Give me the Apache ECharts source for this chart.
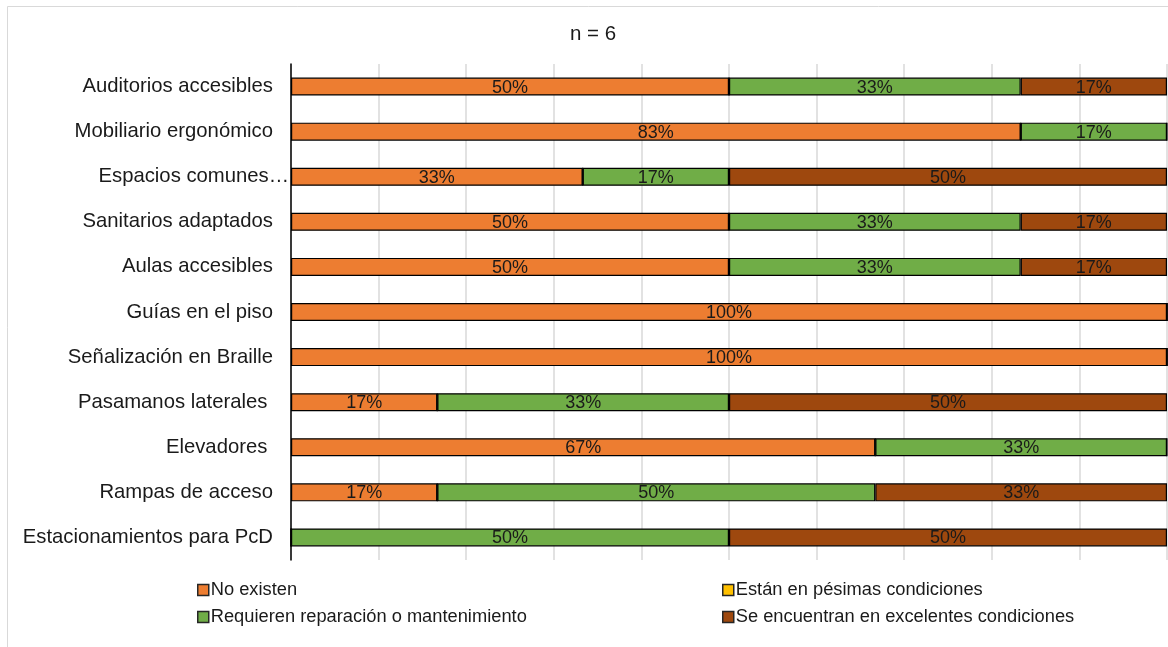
<!DOCTYPE html>
<html>
<head>
<meta charset="utf-8">
<script src="https://cdn.jsdelivr.net/npm/echarts@6/dist/echarts.min.js"></script>
<style>
  html, body { margin: 0; padding: 0; background: #fff; }
  #chart { width: 1168px; height: 647px; }
</style>
</head>
<body>
<div id="chart"></div>
<script>
// Infrastructure items, listed top to bottom
const categories = [
  'Auditorios accesibles',
  'Mobiliario ergonómico',
  'Espacios comunes…',
  'Sanitarios adaptados',
  'Aulas accesibles',
  'Guías en el piso',
  'Señalización en Braille',
  'Pasamanos laterales ',
  'Elevadores ',
  'Rampas de acceso',
  'Estacionamientos para PcD'
];

// Share of respondents (%) per condition, n = 6
const noExisten      = [50, 83.3, 33.3, 50, 50, 100, 100, 16.7, 66.7, 16.7, 0];
const pesimas        = [0, 0, 0, 0, 0, 0, 0, 0, 0, 0, 0];
const requieren      = [33.3, 16.7, 16.7, 33.3, 33.3, 0, 0, 33.3, 33.3, 50, 50];
const excelentes     = [16.7, 0, 50, 16.7, 16.7, 0, 0, 50, 0, 33.3, 50];

const seriesNames = [
  'No existen',
  'Están en pésimas condiciones',
  'Requieren reparación o mantenimiento',
  'Se encuentran en excelentes condiciones'
];
const seriesColors = ['#ED7D31', '#FFC000', '#70AD47', '#9E480E'];
const seriesValues = [noExisten, pesimas, requieren, excelentes];

const FONT = '"Liberation Sans", Arial, sans-serif';

const chart = echarts.init(document.getElementById('chart'), null, { renderer: 'canvas' });

const series = seriesNames.map((name, i) => ({
  name: name,
  type: 'bar',
  stack: 'total',
  barWidth: 18,
  data: seriesValues[i],
  itemStyle: { color: seriesColors[i], borderColor: '#000', borderWidth: 1.2 },
  label: {
    show: true,
    position: 'inside',
    color: '#1a1a1a',
    fontFamily: FONT,
    fontSize: 18,
    offset: [0, 1],
    formatter: p => (p.value > 0 ? Math.round(p.value) + '%' : '')
  },
  emphasis: { disabled: true }
}));

const legendCommon = {
  orient: 'vertical',
  padding: 0,
  itemWidth: 11,
  itemHeight: 11,
  itemGap: 9,
  icon: 'rect',
  textStyle: { fontFamily: FONT, fontSize: 18.3, color: '#1a1a1a', padding: [0, 0, 0, -3] },
  itemStyle: { borderColor: '#262626', borderWidth: 1.5 },
  selectedMode: false
};

chart.setOption({
  animation: false,
  backgroundColor: '#fff',
  graphic: [{
    type: 'rect',
    shape: { x: 7.5, y: 6.5, width: 1170, height: 650 },
    style: { fill: 'none', stroke: '#d9d9d9', lineWidth: 1 },
    silent: true,
    z: -1
  }],
  title: {
    text: 'n = 6',
    left: 588,
    top: 19,
    textAlign: 'center',
    textStyle: { fontFamily: FONT, fontSize: 20.5, fontWeight: 'normal', color: '#1a1a1a' }
  },
  legend: [
    Object.assign({}, legendCommon, {
      left: 197, top: 581,
      data: [seriesNames[0], seriesNames[2]]
    }),
    Object.assign({}, legendCommon, {
      left: 722, top: 581,
      data: [seriesNames[1], seriesNames[3]]
    })
  ],
  grid: { left: 291, right: 1, top: 64, bottom: 87, containLabel: false },
  xAxis: {
    type: 'value',
    min: 0,
    max: 100,
    interval: 10,
    axisLabel: { show: false },
    axisLine: { show: false },
    axisTick: { show: false },
    splitLine: { show: true, lineStyle: { color: '#d9d9d9', width: 1.5 } }
  },
  yAxis: {
    type: 'category',
    inverse: true,
    data: categories,
    axisLine: { show: true, lineStyle: { color: '#000', width: 1.5 } },
    axisTick: { show: false },
    axisLabel: {
      margin: 2,
      fontFamily: FONT,
      fontSize: 20.3,
      color: '#1a1a1a',
      formatter: v => (v.endsWith('…') ? '{t|' + v + '}' : '{n|' + v + '}'),
      rich: {
        n: { fontFamily: FONT, fontSize: 20.3, color: '#1a1a1a', padding: [0, 16, 0, 0] },
        t: { fontFamily: FONT, fontSize: 20.3, color: '#1a1a1a', padding: [0, 0, 0, 0] }
      }
    }
  },
  series: series
});
</script>
</body>
</html>
